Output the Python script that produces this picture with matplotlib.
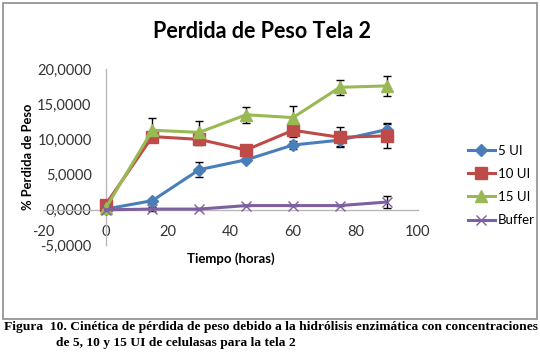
import matplotlib
matplotlib.use("Agg")
import matplotlib.pyplot as plt
from matplotlib.patches import Rectangle

tiempo = [0, 15, 30, 45, 60, 75, 90]

ui5 = [0.1, 1.3, 5.7, 7.1, 9.2, 9.9, 11.4]
ui5_err = [0.1, 0.3, 1.1, 0.2, 0.6, 0.9, 1.0]

ui10 = [0.7, 10.4, 10.0, 8.5, 11.3, 10.3, 10.5]
ui10_err = [0.1, 0.6, 0.8, 0.2, 0.9, 1.4, 1.7]

ui15 = [0.2, 11.3, 11.0, 13.5, 13.1, 17.4, 17.6]
ui15_err = [0.1, 1.7, 1.6, 1.1, 1.6, 1.1, 1.4]

buffer = [0.0, 0.1, 0.1, 0.6, 0.6, 0.6, 1.1]
buffer_err = [0.0, 0.3, 0.1, 0.1, 0.1, 0.1, 0.8]

yticks = [-5, 0, 5, 10, 15, 20]
xticks = [-20, 0, 20, 40, 60, 80, 100]

font = "Lato"

fig = plt.figure(figsize=(5.4, 3.53), dpi=100)
ax = fig.add_axes([43 / 540, 1 - 245 / 353, 375 / 540, 176 / 353])

series = [
    (ui5, ui5_err, "#4A7EBB", "D", 6, "5 UI"),
    (ui10, ui10_err, "#BE4B48", "s", 8, "10 UI"),
    (ui15, ui15_err, "#98B954", "^", 8, "15 UI"),
    (buffer, buffer_err, "#7D60A0", "x", 7, "Buffer"),
]

handles = []
for vals, errs, color, marker, ms, label in series:
    ax.errorbar(tiempo, vals, yerr=errs, fmt="none", ecolor="black",
                elinewidth=1, capsize=3, capthick=1, zorder=2)
    line, = ax.plot(tiempo, vals, color=color, lw=2.2, marker=marker,
                    markersize=ms, markeredgecolor=color, markerfacecolor=color,
                    label=label, zorder=3)
    handles.append(line)

ax.set_xlim(-20, 100)
ax.set_ylim(-5, 20)
ax.set_xticks(xticks)
ax.set_yticks(yticks)
ax.set_xticklabels([str(t) for t in xticks])
ax.set_yticklabels([f"{t:.4f}".replace(".", ",") for t in yticks])

ax.spines["left"].set_position(("data", 0))
ax.spines["bottom"].set_position(("data", 0))
ax.spines["top"].set_visible(False)
ax.spines["right"].set_visible(False)
for s in ("left", "bottom"):
    ax.spines[s].set_color("#b8b8b8")
    ax.spines[s].set_linewidth(1)
ax.tick_params(length=0, labelsize=10.5, labelcolor="#333333")
ax.tick_params(axis="y", pad=10)
ax.tick_params(axis="x", pad=11)
for lbl in ax.get_xticklabels() + ax.get_yticklabels():
    lbl.set_fontfamily(font)

fig.text(262 / 540, 1 - 32 / 353, "Perdida de Peso Tela 2", ha="center",
         va="center", fontsize=15.5, fontweight="bold", family=font)
fig.text(28 / 540, 1 - 157 / 353, "% Perdida de Peso", rotation=90,
         ha="center", va="center", fontsize=9.3, fontweight="bold", family=font)
fig.text(231 / 540, 1 - 259 / 353, "Tiempo (horas)", ha="center",
         va="center", fontsize=9.5, fontweight="bold", family=font)

fig.legend(handles=handles, loc="upper left",
           bbox_to_anchor=(461 / 540, 1 - 138 / 353), frameon=False,
           prop={"family": font, "size": 9.5}, handlelength=2.1,
           handletextpad=0.2, labelspacing=0.85, borderpad=0)

fig.patches.append(Rectangle((3 / 540, 1 - 319 / 353), 534 / 540, 316 / 353,
                             transform=fig.transFigure, fill=False,
                             edgecolor="#8c8c8c", lw=1.2))

cap_font = "Liberation Serif"
fig.text(4 / 540, 1 - 327 / 353,
         "Figura  10. Cinética de pérdida de peso debido a la hidrólisis enzimática con concentraciones",
         ha="left", va="center", fontsize=9.7, fontweight="bold", family=cap_font)
fig.text(56 / 540, 1 - 343 / 353,
         "de 5, 10 y 15 UI de celulasas para la tela 2",
         ha="left", va="center", fontsize=9.7, fontweight="bold", family=cap_font)

fig.savefig("out.png", dpi=100)
